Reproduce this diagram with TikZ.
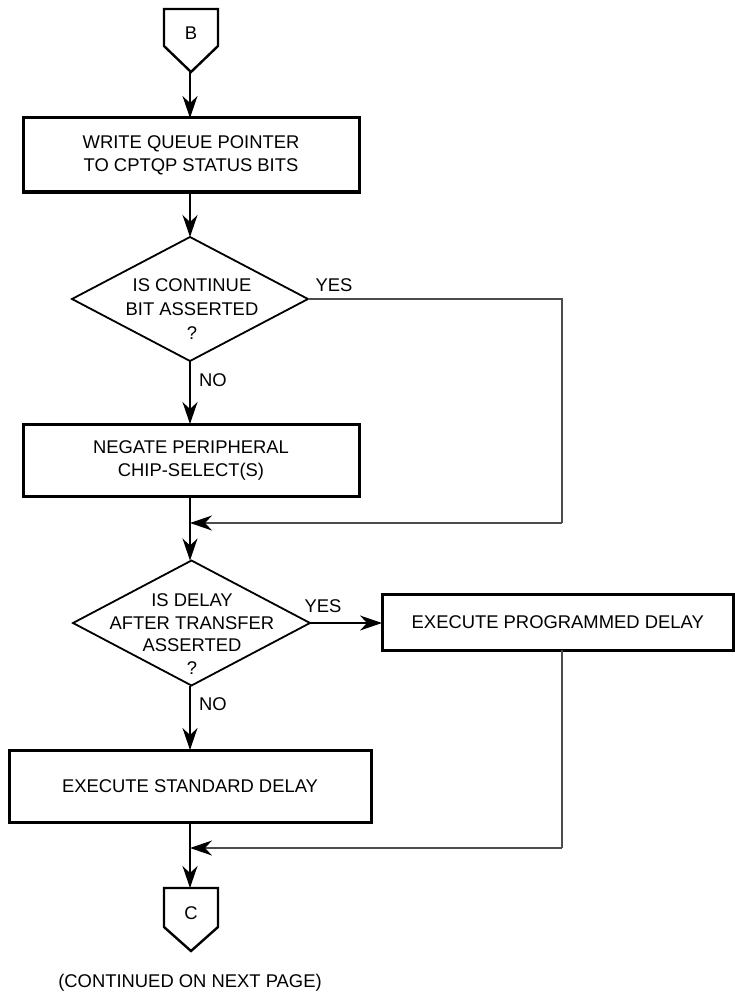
\documentclass[tikz,border=0pt]{standalone}
\usepackage{fontspec}
\setmainfont{Liberation Sans}
\usetikzlibrary{arrows.meta,shapes.geometric}
\begin{document}
\begin{tikzpicture}[x=1pt,y=-1pt,
  txt/.style={font=\fontsize{18.4}{23}\selectfont, align=center, inner sep=0pt},
  box/.style={draw, line width=3pt, inner sep=0pt, outer sep=0pt, txt},
  dia/.style={draw, diamond, line width=1.8pt, inner sep=0pt, outer sep=0pt},
  conn/.style={draw, line width=2.4pt, line join=miter},
  wire/.style={line width=1.3pt},
  gwire/.style={line width=1.3pt, draw=black!70},
  arr/.style={wire, -{Stealth[length=22pt, width=15pt, inset=7pt]}},
  garr/.style={gwire, -{Stealth[length=22pt, width=15pt, inset=7pt, color=black]}}]
\useasboundingbox (0,0) rectangle (735,995);
% off-page connector B
\draw[conn] (164,9) -- (218,9) -- (218,46) -- (191,72) -- (164,46) -- cycle;
\node[txt] (bl) at (191,33) {B};
\coordinate (btip) at (190,72);
% boxes and decisions
\node[box, minimum width=336pt, minimum height=74pt] (box1) at (191,155) {WRITE QUEUE POINTER\\TO CPTQP STATUS BITS};
\node[dia, minimum width=236pt, minimum height=124pt] (d1) at (190,299) {};
\node[txt, font=\fontsize{18.4}{24}\selectfont] (d1t) at (192,309) {IS CONTINUE\\BIT ASSERTED\\?};
\node[box, minimum width=336pt, minimum height=72pt] (box2) at (191,460) {NEGATE PERIPHERAL\\CHIP-SELECT(S)};
\node[dia, minimum width=237pt, minimum height=125pt] (d2) at (191.5,623) {};
\node[txt, font=\fontsize{18.4}{22.6}\selectfont] (d2t) at (192,634) {IS DELAY\\AFTER TRANSFER\\ASSERTED\\?};
\node[box, minimum width=351.5pt, minimum height=56pt] (box3) at (557.75,622) {EXECUTE PROGRAMMED DELAY};
\node[box, minimum width=362pt, minimum height=72pt] (box4) at (190,786) {EXECUTE STANDARD DELAY};
% labels
\node[txt] (yes1) at (334,285) {YES};
\node[txt] (no1) at (213,380) {NO};
\node[txt] (yes2) at (323,606) {YES};
\node[txt] (no2) at (213,704) {NO};
% off-page connector C
\draw[conn] (164,888) -- (218,888) -- (218,927) -- (191,951) -- (164,927) -- cycle;
\node[txt] (cl) at (191,913) {C};
\coordinate (ctop) at (190,888);
\node[txt] (cont) at (190,983) {(CONTINUED ON NEXT PAGE)};
% coordinates
\coordinate (m1) at (190,523);
\coordinate (r1) at (562,299);
\coordinate (m2) at (190,848);
\coordinate (r2) at (562,650);
% connectors
\draw[arr] (btip) -- (btip |- box1.north);
\draw[arr] (btip |- box1.south) -- (d1.north);
\draw[arr] (d1.south) -- (d1.south |- box2.north);
\draw[gwire] (d1.east) -- (r1) -- (r1 |- m1);
\draw[garr] (r1 |- m1) -- (m1);
\draw[arr] (btip |- box2.south) -- (btip |- d2.north);
\draw[arr] (d2.east) -- (d2.east -| box3.west);
\draw[arr] (btip |- d2.south) -- (btip |- box4.north);
\draw[gwire] (r2) -- (r2 |- m2);
\draw[garr] (r2 |- m2) -- (m2);
\draw[arr] (btip |- box4.south) -- (ctop);
\end{tikzpicture}
\end{document}
